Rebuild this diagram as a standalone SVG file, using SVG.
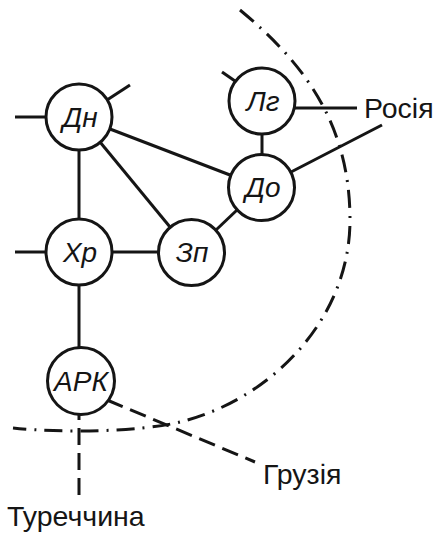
<svg xmlns="http://www.w3.org/2000/svg" width="440" height="533" viewBox="0 0 440 533">
<style>
.n{fill:#fff;stroke:#151515;stroke-width:3}
.l{stroke:#151515;stroke-width:3;fill:none}
.d{stroke:#151515;stroke-width:3;fill:none;stroke-dasharray:17 8}
.dd{stroke:#151515;stroke-width:3;fill:none;stroke-dasharray:18 8 2 8}
.t{font-family:"Liberation Sans",Arial,sans-serif;font-style:italic;font-size:28px;fill:#151515;text-anchor:middle}
.c{font-family:"Liberation Sans",Arial,sans-serif;font-size:28.5px;fill:#151515}
</style>
<rect width="440" height="533" fill="#fff"/>
<g id="border">
<path class="dd" d="M240,10 C300,60 350,120 350,220 C350,320 270,400 180,422 C140,432 60,433 13,428"/>
</g>
<g id="connectors">
<line class="l" x1="15" y1="117" x2="46" y2="117"/>
<line class="l" x1="107" y1="100" x2="130" y2="85"/>
<line class="l" x1="79" y1="150" x2="79" y2="219"/>
<line class="l" x1="110" y1="129" x2="230" y2="175"/>
<line class="l" x1="100" y1="142" x2="170" y2="227"/>
<line class="l" x1="222" y1="72" x2="235" y2="81"/>
<line class="l" x1="294" y1="108" x2="357" y2="108"/>
<line class="l" x1="262" y1="134" x2="262" y2="155"/>
<line class="l" x1="291" y1="172" x2="382" y2="125"/>
<line class="l" x1="237" y1="210" x2="216" y2="230"/>
<line class="l" x1="15" y1="252" x2="46" y2="252"/>
<line class="l" x1="112" y1="252" x2="159" y2="252"/>
<line class="l" x1="79" y1="285" x2="79" y2="348"/>
<line class="d" x1="107" y1="400" x2="255" y2="462"/>
<line class="d" x1="79" y1="415" x2="79" y2="498" stroke-dashoffset="12"/>
</g>
<g id="n-dn"><circle class="n" cx="79" cy="117" r="33"/><text class="t" x="80" y="127">Дн</text></g>
<g id="n-lg"><circle class="n" cx="262" cy="101" r="33"/><text class="t" x="263" y="111">Лг</text></g>
<g id="n-do"><circle class="n" cx="261.5" cy="187.5" r="33"/><text class="t" x="263" y="197">До</text></g>
<g id="n-hr"><circle class="n" cx="79" cy="252" r="33"/><text class="t" x="80" y="262">Хр</text></g>
<g id="n-zp"><circle class="n" cx="191.5" cy="252.5" r="33"/><text class="t" x="192" y="262">Зп</text></g>
<g id="n-ark"><circle class="n" cx="81" cy="381" r="33.5"/><text class="t" x="81" y="391">АРК</text></g>
<g id="labels">
<text class="c" x="364" y="118">Росія</text>
<text class="c" x="263" y="484">Грузія</text>
<text class="c" x="7" y="526">Туреччина</text>
</g>
</svg>
